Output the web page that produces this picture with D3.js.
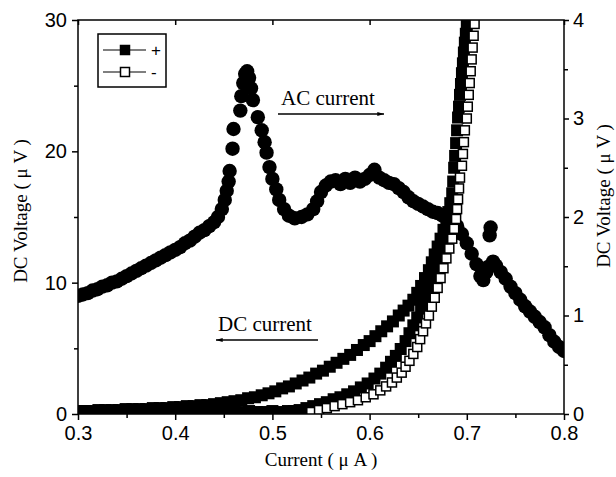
<!DOCTYPE html>
<html>
<head>
<meta charset="utf-8">
<script src="https://cdn.jsdelivr.net/npm/d3@7"></script>
<style>
  body { margin: 0; background: #fff; }
  svg { display: block; }
</style>
</head>
<body>
<div id="chart"></div>
<script>
// AC-current sweep, filled circles, left axis (uV)
const acPoints = [
  [0.300, 9.0], [0.305, 9.1], [0.310, 9.2], [0.315, 9.4], [0.320, 9.5], [0.325, 9.7],
  [0.330, 9.8], [0.335, 10.0], [0.340, 10.1], [0.345, 10.3], [0.350, 10.5], [0.355, 10.7],
  [0.360, 10.9], [0.365, 11.1], [0.370, 11.3], [0.375, 11.5], [0.380, 11.7], [0.385, 11.9],
  [0.390, 12.1], [0.395, 12.3], [0.400, 12.5], [0.405, 12.7], [0.410, 13.0], [0.415, 13.2],
  [0.420, 13.5], [0.425, 13.8], [0.430, 14.0], [0.435, 14.3], [0.440, 14.6], [0.444, 15.0],
  [0.448, 15.6], [0.451, 16.3], [0.453, 17.0], [0.455, 17.7], [0.456, 18.5], [0.459, 20.2],
  [0.460, 21.7], [0.467, 23.1], [0.468, 24.2], [0.470, 25.2], [0.472, 25.9], [0.474, 26.1],
  [0.476, 25.6], [0.478, 24.8], [0.480, 23.9], [0.485, 22.6], [0.489, 21.6], [0.492, 20.7],
  [0.494, 19.9], [0.497, 18.8], [0.500, 17.9], [0.504, 17.1], [0.507, 16.3], [0.512, 15.6],
  [0.517, 15.1], [0.523, 14.9], [0.530, 15.0], [0.536, 15.2], [0.542, 15.6], [0.546, 16.2],
  [0.550, 16.9], [0.555, 17.4], [0.560, 17.7], [0.565, 17.8], [0.570, 17.5], [0.575, 17.9],
  [0.580, 17.6], [0.585, 18.0], [0.590, 17.7], [0.595, 17.9], [0.600, 18.2], [0.605, 18.6],
  [0.610, 18.0], [0.615, 17.8], [0.620, 17.6], [0.625, 17.5], [0.630, 17.2], [0.635, 16.9],
  [0.640, 16.5], [0.645, 16.2], [0.650, 16.0], [0.655, 15.8], [0.660, 15.6], [0.665, 15.4],
  [0.670, 15.3], [0.675, 15.1], [0.680, 15.0], [0.685, 14.7], [0.690, 14.3], [0.695, 13.7],
  [0.700, 13.0], [0.705, 12.2], [0.710, 11.4], [0.714, 10.5], [0.717, 10.2], [0.720, 10.8],
  [0.722, 11.2], [0.7235, 13.6], [0.7245, 14.2], [0.727, 11.6], [0.730, 11.3], [0.735, 10.8],
  [0.740, 10.3], [0.745, 9.7], [0.750, 9.2], [0.755, 8.7], [0.760, 8.2], [0.765, 7.8],
  [0.770, 7.4], [0.775, 7.0], [0.780, 6.6], [0.785, 6.0], [0.790, 5.5], [0.795, 5.1], [0.800, 4.8]
];

// DC "+" filled squares, right axis (uV): upper branch
const dcPlusUpper = [
  [0.300, 0.03], [0.307, 0.03], [0.314, 0.03], [0.321, 0.04], [0.328, 0.04], [0.335, 0.04],
  [0.342, 0.04], [0.349, 0.05], [0.356, 0.05], [0.363, 0.05], [0.370, 0.05], [0.377, 0.06],
  [0.384, 0.06], [0.391, 0.06], [0.398, 0.07], [0.405, 0.07], [0.412, 0.08], [0.419, 0.08],
  [0.426, 0.09], [0.433, 0.09], [0.440, 0.10], [0.447, 0.11], [0.454, 0.12], [0.461, 0.13],
  [0.468, 0.14], [0.475, 0.16], [0.482, 0.17], [0.489, 0.19], [0.496, 0.21], [0.503, 0.23],
  [0.510, 0.26], [0.517, 0.28], [0.524, 0.31], [0.531, 0.34], [0.538, 0.37], [0.545, 0.41],
  [0.552, 0.44], [0.559, 0.48], [0.566, 0.52], [0.573, 0.56], [0.580, 0.60], [0.587, 0.65],
  [0.594, 0.70], [0.600, 0.74], [0.606, 0.79], [0.612, 0.84], [0.618, 0.89], [0.624, 0.94],
  [0.630, 1.00], [0.635, 1.05], [0.640, 1.10], [0.645, 1.16], [0.649, 1.23], [0.653, 1.30],
  [0.657, 1.38], [0.661, 1.46], [0.664, 1.54], [0.667, 1.62], [0.670, 1.70], [0.673, 1.78],
  [0.676, 1.87], [0.679, 1.96], [0.681, 2.05], [0.683, 2.14], [0.685, 2.24], [0.686, 2.36],
  [0.687, 2.50], [0.688, 2.62], [0.689, 2.75], [0.690, 2.88], [0.691, 3.01], [0.692, 3.12],
  [0.693, 3.24], [0.694, 3.35], [0.695, 3.46], [0.696, 3.56], [0.697, 3.67], [0.698, 3.77],
  [0.699, 3.86], [0.700, 3.95], [0.701, 4.04]
];

// DC "+" filled squares: lower branch
const dcPlusLower = [
  [0.300, 0.02], [0.308, 0.03], [0.316, 0.02], [0.324, 0.02], [0.332, 0.03], [0.340, 0.02],
  [0.348, 0.02], [0.356, 0.03], [0.364, 0.02], [0.372, 0.02], [0.380, 0.03], [0.388, 0.02],
  [0.396, 0.02], [0.404, 0.03], [0.412, 0.02], [0.420, 0.02], [0.428, 0.03], [0.436, 0.02],
  [0.444, 0.02], [0.452, 0.03], [0.460, 0.02], [0.468, 0.02], [0.476, 0.03], [0.484, 0.02],
  [0.492, 0.02], [0.500, 0.03], [0.508, 0.02], [0.516, 0.03], [0.522, 0.03], [0.528, 0.04],
  [0.535, 0.06], [0.542, 0.08], [0.549, 0.10], [0.556, 0.12], [0.563, 0.15], [0.570, 0.17],
  [0.577, 0.20], [0.584, 0.23], [0.591, 0.27], [0.598, 0.31], [0.605, 0.36], [0.611, 0.41],
  [0.617, 0.47], [0.622, 0.53], [0.627, 0.59], [0.632, 0.66], [0.637, 0.74], [0.641, 0.82],
  [0.645, 0.90], [0.649, 0.98], [0.653, 1.07], [0.657, 1.16], [0.661, 1.26], [0.665, 1.36],
  [0.668, 1.46], [0.671, 1.56], [0.674, 1.66], [0.677, 1.76], [0.680, 1.86], [0.682, 1.96],
  [0.684, 2.06]
];

// DC "-" open squares
const dcMinus = [
  [0.540, 0.02], [0.548, 0.04], [0.556, 0.06], [0.564, 0.08], [0.572, 0.10], [0.580, 0.12],
  [0.588, 0.14], [0.596, 0.17], [0.604, 0.20], [0.611, 0.24], [0.617, 0.28], [0.623, 0.32],
  [0.628, 0.37], [0.633, 0.42], [0.637, 0.48], [0.641, 0.54], [0.645, 0.61], [0.649, 0.68],
  [0.652, 0.76], [0.655, 0.84], [0.658, 0.92], [0.661, 1.00], [0.664, 1.09], [0.667, 1.18],
  [0.670, 1.28], [0.673, 1.38], [0.676, 1.48], [0.679, 1.58], [0.682, 1.68], [0.685, 1.78],
  [0.687, 1.88], [0.689, 1.98], [0.690, 2.08], [0.691, 2.18], [0.692, 2.29], [0.693, 2.40],
  [0.695, 2.52], [0.696, 2.64], [0.697, 2.76], [0.698, 2.88], [0.700, 3.00], [0.701, 3.12],
  [0.702, 3.24], [0.703, 3.36], [0.704, 3.48], [0.705, 3.60], [0.706, 3.72], [0.707, 3.84],
  [0.708, 3.96]
];

const xTicks = [0.3, 0.4, 0.5, 0.6, 0.7, 0.8];
const xMinorTicks = [0.35, 0.45, 0.55, 0.65, 0.75];
const yLeftTicks = [0, 10, 20, 30];
const yLeftMinorTicks = [5, 15, 25];
const yRightTicks = [0, 1, 2, 3, 4];
const yRightMinorTicks = [0.5, 1.5, 2.5, 3.5];
const legendLabels = ['+', '-'];

const width = 616, height = 477;
const plotLeft = 78, plotRight = 564, plotTop = 20, plotBottom = 414;

const svg = d3.select('#chart')
  .append('svg')
  .attr('width', width)
  .attr('height', height);

const x = d3.scaleLinear().domain([0.3, 0.8]).range([plotLeft, plotRight]);
const yL = d3.scaleLinear().domain([0, 30]).range([plotBottom, plotTop]);
const yR = d3.scaleLinear().domain([0, 4]).range([plotBottom, plotTop]);

const defs = svg.append('defs');
defs.append('clipPath')
  .attr('id', 'plotclip')
  .append('rect')
  .attr('x', plotLeft).attr('y', plotTop)
  .attr('width', plotRight - plotLeft).attr('height', plotBottom - plotTop);

const plot = svg.append('g').attr('clip-path', 'url(#plotclip)');

// AC circles
plot.append('g').selectAll('circle')
  .data(acPoints)
  .enter()
  .append('circle')
  .attr('cx', d => x(d[0]))
  .attr('cy', d => yL(d[1]))
  .attr('r', 7.2)
  .attr('fill', '#000');

const sq = 12;
// filled squares
plot.append('g').selectAll('rect')
  .data(dcPlusLower.concat(dcPlusUpper))
  .enter()
  .append('rect')
  .attr('x', d => x(d[0]) - sq / 2)
  .attr('y', d => yR(d[1]) - sq / 2)
  .attr('width', sq).attr('height', sq)
  .attr('fill', '#000');

// open squares
const osq = 9;
plot.append('g').selectAll('rect')
  .data(dcMinus)
  .enter()
  .append('rect')
  .attr('x', d => x(d[0]) - osq / 2)
  .attr('y', d => yR(d[1]) - osq / 2)
  .attr('width', osq).attr('height', osq)
  .attr('fill', '#fff')
  .attr('stroke', '#000')
  .attr('stroke-width', 1.5);

// axes
const tickFont = "'Liberation Sans', Arial, sans-serif";
const titleFont = "'Liberation Serif', 'Times New Roman', serif";

function styleAxis(g) {
  g.select('.domain').remove();
  g.selectAll('line').attr('stroke', '#000').attr('stroke-width', 1.5);
  g.selectAll('text').attr('font-family', tickFont).attr('font-size', 20).attr('fill', '#000');
}

svg.append('g')
  .attr('transform', `translate(0,${plotBottom})`)
  .call(d3.axisBottom(x).tickValues(xTicks).tickFormat(d3.format('.1f')).tickSize(6).tickPadding(6))
  .call(styleAxis);
svg.append('g')
  .attr('transform', `translate(0,${plotBottom})`)
  .call(d3.axisBottom(x).tickValues(xMinorTicks).tickFormat('').tickSize(4))
  .call(styleAxis);
// top ticks point inward
svg.append('g')
  .attr('transform', `translate(0,${plotTop})`)
  .call(d3.axisBottom(x).tickValues(xTicks).tickFormat('').tickSize(5))
  .call(styleAxis);

svg.append('g')
  .attr('transform', `translate(${plotLeft},0)`)
  .call(d3.axisLeft(yL).tickValues(yLeftTicks).tickFormat(d3.format('d')).tickSize(6).tickPadding(5))
  .call(styleAxis);
svg.append('g')
  .attr('transform', `translate(${plotLeft},0)`)
  .call(d3.axisLeft(yL).tickValues(yLeftMinorTicks).tickFormat('').tickSize(4))
  .call(styleAxis);

svg.append('g')
  .attr('transform', `translate(${plotRight},0)`)
  .call(d3.axisRight(yR).tickValues(yRightTicks).tickFormat(d3.format('d')).tickSize(5).tickPadding(4))
  .call(styleAxis);
svg.append('g')
  .attr('transform', `translate(${plotRight},0)`)
  .call(d3.axisRight(yR).tickValues(yRightMinorTicks).tickFormat('').tickSize(4))
  .call(styleAxis);

// frame
svg.append('rect')
  .attr('x', plotLeft).attr('y', plotTop)
  .attr('width', plotRight - plotLeft).attr('height', plotBottom - plotTop)
  .attr('fill', 'none')
  .attr('stroke', '#000')
  .attr('stroke-width', 1.5);

// axis titles
svg.append('text')
  .attr('x', (plotLeft + plotRight) / 2)
  .attr('y', 466)
  .attr('text-anchor', 'middle')
  .attr('font-family', titleFont)
  .attr('font-size', 19)
  .text('Current ( μ A )');

svg.append('text')
  .attr('transform', 'translate(27,211) rotate(-90)')
  .attr('text-anchor', 'middle')
  .attr('font-family', titleFont)
  .attr('font-size', 19)
  .text('DC Voltage ( μ V )');

svg.append('text')
  .attr('transform', 'translate(610,196) rotate(-90)')
  .attr('text-anchor', 'middle')
  .attr('font-family', titleFont)
  .attr('font-size', 19)
  .text('DC Voltage ( μ V )');

// annotations
defs.append('marker')
  .attr('id', 'arrowhead')
  .attr('viewBox', '0 0 10 6')
  .attr('refX', 10)
  .attr('refY', 3)
  .attr('markerWidth', 7)
  .attr('markerHeight', 4)
  .attr('markerUnits', 'userSpaceOnUse')
  .attr('orient', 'auto')
  .append('path')
  .attr('d', 'M0,0 L10,3 L0,6 Z')
  .attr('fill', '#000');

svg.append('text')
  .attr('x', 281).attr('y', 105)
  .attr('font-family', titleFont)
  .attr('font-size', 21)
  .text('AC current');
svg.append('line')
  .attr('x1', 278).attr('y1', 114).attr('x2', 384).attr('y2', 114)
  .attr('stroke', '#000').attr('stroke-width', 1.5)
  .attr('marker-end', 'url(#arrowhead)');

svg.append('text')
  .attr('x', 218).attr('y', 331)
  .attr('font-family', titleFont)
  .attr('font-size', 21)
  .text('DC current');
svg.append('line')
  .attr('x1', 318).attr('y1', 340).attr('x2', 216).attr('y2', 340)
  .attr('stroke', '#000').attr('stroke-width', 1.5)
  .attr('marker-end', 'url(#arrowhead)');

// legend
const legend = svg.append('g');
legend.append('rect')
  .attr('x', 98).attr('y', 34)
  .attr('width', 68).attr('height', 53)
  .attr('fill', '#fff')
  .attr('stroke', '#000')
  .attr('stroke-width', 1.5);

legendLabels.forEach((label, i) => {
  const ly = 50 + i * 22;
  legend.append('line')
    .attr('x1', 103).attr('x2', 146)
    .attr('y1', ly).attr('y2', ly)
    .attr('stroke', '#000').attr('stroke-width', 1.2);
  legend.append('rect')
    .attr('x', 120.5).attr('y', ly - 4.5)
    .attr('width', 9).attr('height', 9)
    .attr('fill', i === 0 ? '#000' : '#fff')
    .attr('stroke', '#000')
    .attr('stroke-width', 1.5);
  legend.append('text')
    .attr('x', 151).attr('y', ly + 6)
    .attr('font-family', tickFont)
    .attr('font-size', 17)
    .text(label);
});
</script>
</body>
</html>
